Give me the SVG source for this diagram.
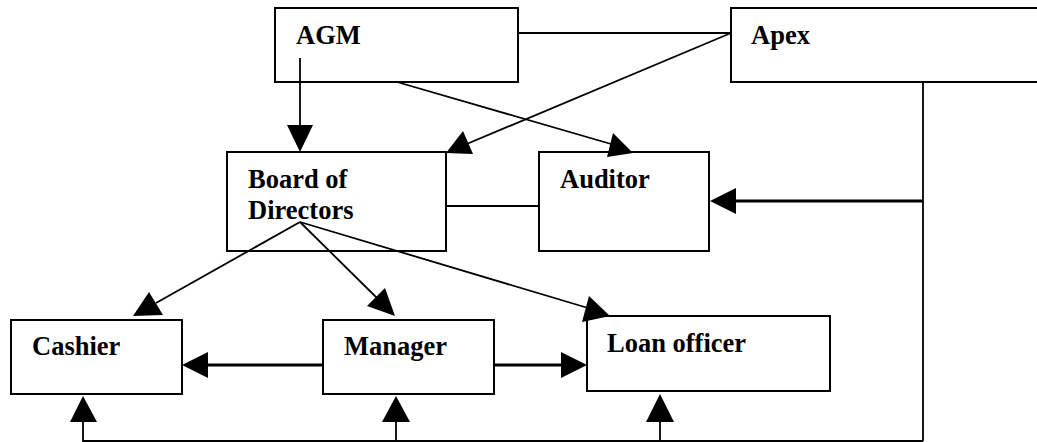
<svg xmlns="http://www.w3.org/2000/svg" width="1037" height="442" viewBox="0 0 1037 442">
<style>
.box{fill:#fff;stroke:#000;stroke-width:2}
.lbl{font-family:"Liberation Serif","Times New Roman",serif;font-weight:bold;font-size:26.5px;fill:#000}
.ln{fill:none;stroke:#000;stroke-width:1.8}
.thick{fill:none;stroke:#000;stroke-width:3}
.head{fill:#000;stroke:none}
</style>
<rect width="1037" height="442" fill="#fff"/>
<g id="connectors">
  <line class="ln" x1="518" y1="33" x2="731" y2="33"/>
  <line class="ln" x1="300" y1="58" x2="300" y2="126"/>
  <polygon class="head" points="287,125 313,125 300,152"/>
  <line class="ln" x1="731" y1="33" x2="462" y2="146"/>
  <polygon class="head" points="463,131 446,153 473,154"/>
  <line class="ln" x1="397" y1="82" x2="618" y2="146"/>
  <polygon class="head" points="613,133 607,157 633,153"/>
  <line class="ln" x1="446" y1="206" x2="539" y2="206"/>
  <line class="ln" x1="923" y1="82" x2="923" y2="441"/>
  <line class="thick" x1="923" y1="201" x2="732" y2="201"/>
  <polygon class="head" points="736,188 710,201 736,214"/>
  <line class="ln" x1="300" y1="222" x2="156" y2="303"/>
  <polygon class="head" points="149,292 133,316 163,315"/>
  <line class="ln" x1="300" y1="222" x2="378" y2="299"/>
  <polygon class="head" points="385,288 367,306 395,316"/>
  <line class="ln" x1="300" y1="222" x2="588" y2="308"/>
  <polygon class="head" points="589,296 582,322 610,316"/>
  <line class="thick" x1="323" y1="365" x2="205" y2="365"/>
  <polygon class="head" points="208,352 182,365 208,378"/>
  <line class="thick" x1="494" y1="365" x2="563" y2="365"/>
  <polygon class="head" points="561,352 587,365 561,378"/>
  <polyline class="ln" points="83,422 83,441 923,441"/>
  <polygon class="head" points="70,422 97,422 83,396"/>
  <line class="ln" x1="396" y1="422" x2="396" y2="441"/>
  <polygon class="head" points="382,422 410,422 396,396"/>
  <line class="ln" x1="660" y1="422" x2="660" y2="441"/>
  <polygon class="head" points="646,422 674,422 660,394"/>
</g>
<g id="agm">
  <rect class="box" x="275" y="8" width="243" height="74" fill-opacity="0"/>
  <text class="lbl" x="296" y="44">AGM</text>
</g>
<g id="apex">
  <rect class="box" x="731" y="8" width="400" height="74" fill-opacity="0"/>
  <text class="lbl" x="751" y="44">Apex</text>
</g>
<g id="board">
  <rect class="box" x="227" y="152" width="219" height="99" fill-opacity="0"/>
  <text class="lbl" x="248" y="188">Board of</text>
  <text class="lbl" x="248" y="219">Directors</text>
</g>
<g id="auditor">
  <rect class="box" x="539" y="152" width="170" height="99" fill-opacity="0"/>
  <text class="lbl" x="560" y="188">Auditor</text>
</g>
<g id="cashier">
  <rect class="box" x="11" y="320" width="171" height="74" fill-opacity="0"/>
  <text class="lbl" x="32" y="355">Cashier</text>
</g>
<g id="manager">
  <rect class="box" x="323" y="320" width="171" height="74" fill-opacity="0"/>
  <text class="lbl" x="344" y="355">Manager</text>
</g>
<g id="loan">
  <rect class="box" x="587" y="316" width="243" height="75" fill-opacity="0"/>
  <text class="lbl" x="607" y="352">Loan officer</text>
</g>
</svg>
